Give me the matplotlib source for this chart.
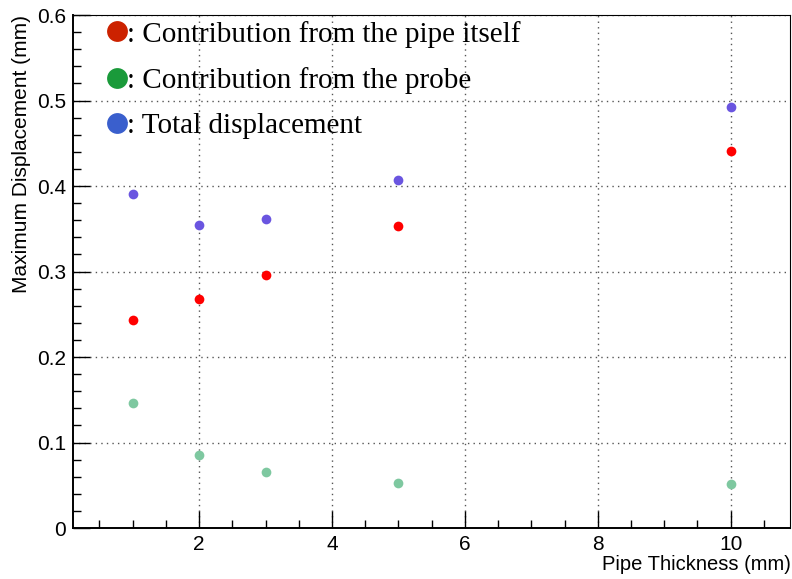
import matplotlib
matplotlib.use("Agg")
import matplotlib.pyplot as plt
from matplotlib.lines import Line2D
from matplotlib.ticker import MultipleLocator

# pipe wall thickness (mm) and maximum displacement (mm)
thickness = [1, 2, 3, 5, 10]
pipe_disp = [0.243, 0.268, 0.296, 0.353, 0.441]
probe_disp = [0.146, 0.085, 0.066, 0.053, 0.051]
total_disp = [0.391, 0.354, 0.362, 0.407, 0.492]

legend_labels = [": Contribution from the pipe itself",
                 ": Contribution from the probe",
                 ": Total displacement"]

plt.rcParams["font.family"] = ["Liberation Sans", "DejaVu Sans"]

fig = plt.figure(figsize=(7.92, 5.79), dpi=100)
ax = fig.add_axes([0.092, 0.088, 0.906, 0.886])

ax.plot(thickness, pipe_disp, "o", color="#ff0000", ms=7, mec="none")
ax.plot(thickness, probe_disp, "o", color="#7ec8a0", ms=7, mec="none")
ax.plot(thickness, total_disp, "o", color="#6a55e0", ms=7, mec="none")

ax.set_xlim(0.1, 10.9)
ax.set_ylim(0, 0.6)
ax.xaxis.set_minor_locator(MultipleLocator(0.5))
ax.yaxis.set_minor_locator(MultipleLocator(0.02))
ax.set_xticks([2, 4, 6, 8, 10])
ax.set_xticklabels(["2", "4", "6", "8", "10"])
ax.set_yticks([0, 0.1, 0.2, 0.3, 0.4, 0.5, 0.6])
ax.set_yticklabels(["0", "0.1", "0.2", "0.3", "0.4", "0.5", "0.6"])

ax.grid(True, which="major", color="#555555", ls=(0, (1, 3)), lw=1.0)
ax.set_axisbelow(True)
ax.tick_params(which="both", direction="in", top=False, right=False,
               labelsize=15, pad=5)
ax.tick_params(which="major", length=12, width=1)
ax.tick_params(which="minor", length=6, width=1)
for s in ("left", "bottom"):
    ax.spines[s].set_linewidth(1.4)
for s in ("top", "right"):
    ax.spines[s].set_linewidth(0.8)

ax.set_xlabel("Pipe Thickness (mm)", fontsize=14.5, ha="right", x=1.0, labelpad=1)
ax.set_ylabel("Maximum Displacement (mm)", fontsize=15, ha="right", y=1.0, labelpad=4)

handles = [Line2D([], [], ls="none", marker="o", ms=15, mec="none", color=c)
           for c in ("#cc2200", "#1a9a3a", "#3a5fcd")]
ax.legend(handles, legend_labels, loc="upper left", frameon=False,
          handlelength=0.5, handletextpad=0.1, labelspacing=0.66,
          borderaxespad=0.0, bbox_to_anchor=(0.035, 1.012),
          prop={"family": "Liberation Serif", "size": 21})

fig.savefig("out.png", dpi=100)
